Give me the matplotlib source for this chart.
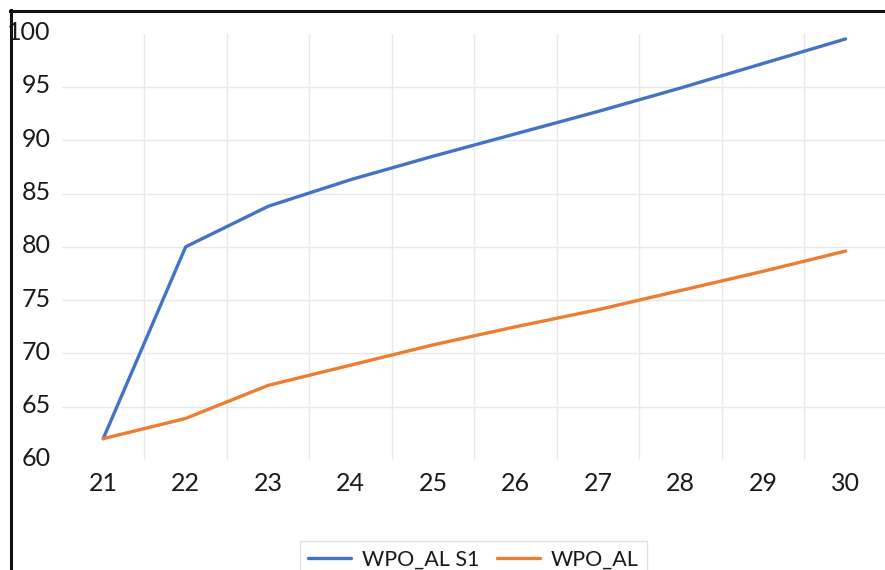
import matplotlib.pyplot as plt
from matplotlib.lines import Line2D
from matplotlib.transforms import ScaledTranslation
import numpy as np

plt.rcParams['font.family'] = ['Lato', 'DejaVu Sans']

# iteration values for the two variants
iters = [21, 22, 23, 24, 25, 26, 27, 28, 29, 30]
wpo_al_s1 = [62.0, 80.0, 83.8, 86.3, 88.5, 90.6, 92.7, 94.9, 97.2, 99.5]
wpo_al = [62.0, 63.9, 67.0, 68.9, 70.8, 72.5, 74.1, 75.9, 77.7, 79.6]
yticks = [60, 65, 70, 75, 80, 85, 90, 95, 100]

blue = '#4472C4'
orange = '#ED7D31'
grid_c = '#e8e8e8'

fig = plt.figure(figsize=(8.85, 5.7), dpi=100)
ax = fig.add_axes([0.070, 0.193, 0.932, 0.748])

x = np.arange(len(iters))
ax.plot(x, wpo_al_s1, color=blue, lw=2.4, label='WPO_AL S1', solid_capstyle='round')
ax.plot(x, wpo_al, color=orange, lw=2.4, label='WPO_AL', solid_capstyle='round')

ax.set_xlim(-0.5, len(iters) - 0.5)
ax.set_ylim(60, 100)
ax.set_xticks(x)
ax.set_xticklabels([str(v) for v in iters])
ax.set_yticks(yticks)

# category boundaries get the vertical grid, values get the horizontal one
ax.set_xticks(x[:-1] + 0.5, minor=True)
ax.grid(True, which='minor', axis='x', color=grid_c, lw=1)
for v in yticks[1:-1]:
    ax.axhline(v, color=grid_c, lw=1, zorder=0)
ax.set_axisbelow(True)

for s in ax.spines.values():
    s.set_visible(False)
ax.tick_params(which='both', length=0)
ax.tick_params(axis='y', labelsize=18, pad=8, colors='#1a1a1a')
ax.tick_params(axis='x', labelsize=18, pad=9, colors='#1a1a1a')

# nudge value labels a little above their grid lines
lift = ScaledTranslation(0, 3 / 100, fig.dpi_scale_trans)
for lbl in ax.get_yticklabels():
    lbl.set_transform(lbl.get_transform() + lift)

leg = fig.legend(loc='upper center', bbox_to_anchor=(0.535, 1 - 530 / 570), ncol=2,
                 fontsize=15.5, frameon=True, fancybox=False, edgecolor='#d9d9d9',
                 handlelength=2.0, handletextpad=0.5, columnspacing=0.8,
                 borderpad=0.4, labelcolor='#1a1a1a')
leg.get_frame().set_linewidth(1)

# chart frame edges
fig.add_artist(Line2D([10 / 885, 1], [1 - 11 / 570, 1 - 11 / 570], color='#111111', lw=2.2))
fig.add_artist(Line2D([11 / 885, 11 / 885], [0, 1 - 10 / 570], color='#111111', lw=2.2))

fig.savefig('out.png', dpi=100)
